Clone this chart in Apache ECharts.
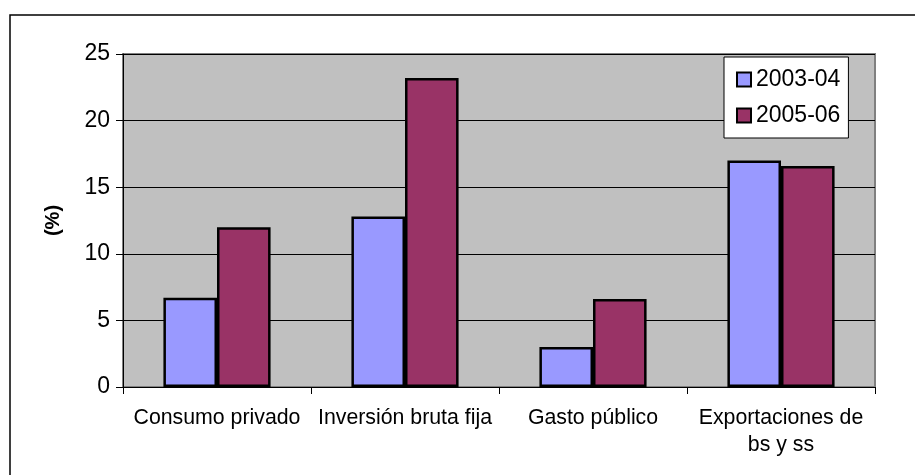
<!DOCTYPE html>
<html>
<head>
<meta charset="utf-8">
<script src="https://cdn.jsdelivr.net/npm/echarts@6/dist/echarts.min.js"></script>
<style>
  html, body { margin: 0; padding: 0; background: #fff; }
  #chart { width: 915px; height: 475px; }
</style>
</head>
<body>
<div id="chart"></div>
<script>
// datos
const categories = ['Consumo privado', 'Inversión bruta fija', 'Gasto público', 'Exportaciones de\nbs y ss'];
const serie2003 = [6.7, 12.8, 3.0, 17.0];
const serie2005 = [12.0, 23.2, 6.6, 16.6];
const seriesNames = ['2003-04', '2005-06'];
const yTicks = [0, 5, 10, 15, 20, 25];

const font = 'Liberation Sans, Arial, sans-serif';
const chart = echarts.init(document.getElementById('chart'));

const option = {
  animation: false,
  backgroundColor: '#fff',
  textStyle: { fontFamily: font, color: '#000' },
  color: ['#9999FF', '#993366'],
  graphic: [
    {
      type: 'rect',
      shape: { x: 10, y: 15, width: 930, height: 490 },
      style: { fill: null, stroke: '#000', lineWidth: 1.5 },
      silent: true,
      z: 0
    }
  ],
  grid: {
    left: 123,
    top: 54,
    right: 40,
    bottom: 88,
    show: true,
    backgroundColor: '#C0C0C0',
    borderColor: '#808080',
    borderWidth: 2
  },
  legend: {
    orient: 'vertical',
    left: 724,
    top: 57,
    data: seriesNames,
    icon: 'rect',
    itemWidth: 14,
    itemHeight: 14,
    itemGap: 13,
    padding: [11, 8, 11, 12],
    backgroundColor: '#fff',
    borderColor: '#000',
    borderWidth: 1,
    itemStyle: { borderColor: '#000', borderWidth: 2 },
    textStyle: { fontSize: 23, fontFamily: font, color: '#000' }
  },
  xAxis: {
    type: 'category',
    data: categories,
    axisLine: { lineStyle: { color: '#000', width: 1 } },
    axisTick: { show: true, length: 7, lineStyle: { color: '#000' } },
    axisLabel: { fontSize: 21.3, color: '#000', margin: 18, lineHeight: 27, interval: 0 }
  },
  yAxis: {
    type: 'value',
    min: yTicks[0],
    max: yTicks[yTicks.length - 1],
    interval: 5,
    name: '(%)',
    nameLocation: 'middle',
    nameGap: 60,
    nameTextStyle: { fontSize: 20, fontWeight: 'bold', color: '#000' },
    axisLine: { show: true, lineStyle: { color: '#000', width: 1 } },
    axisTick: { show: true, length: 7, lineStyle: { color: '#000' } },
    axisLabel: { fontSize: 23, color: '#000', margin: 13 },
    splitLine: { lineStyle: { color: '#000', width: 1 } }
  },
  series: [
    {
      name: seriesNames[0],
      type: 'bar',
      data: serie2003,
      barGap: '0%',
      barCategoryGap: '43%',
      itemStyle: { borderColor: '#000', borderWidth: 2.5 }
    },
    {
      name: seriesNames[1],
      type: 'bar',
      data: serie2005,
      barGap: '0%',
      barCategoryGap: '43%',
      itemStyle: { borderColor: '#000', borderWidth: 2.5 }
    }
  ]
};

chart.setOption(option);
</script>
</body>
</html>
